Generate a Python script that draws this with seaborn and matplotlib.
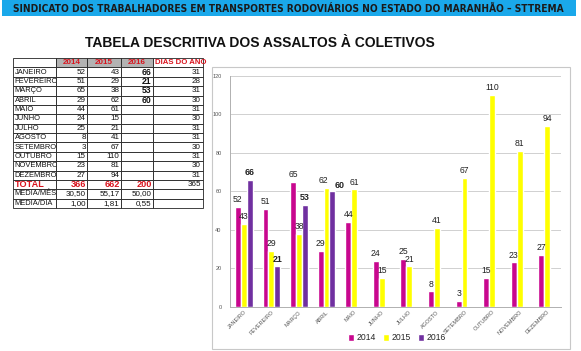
import pandas as pd
import matplotlib
matplotlib.use('Agg')
import matplotlib.pyplot as plt
from matplotlib import font_manager
from matplotlib.patches import Rectangle
import seaborn as sns

# data
meses = ['JANEIRO', 'FEVEREIRO', 'MARÇO', 'ABRIL', 'MAIO', 'JUNHO', 'JULHO',
         'AGOSTO', 'SETEMBRO', 'OUTUBRO', 'NOVEMBRO', 'DEZEMBRO']
v2014 = [52, 51, 65, 29, 44, 24, 25, 8, 3, 15, 23, 27]
v2015 = [43, 29, 38, 62, 61, 15, 21, 41, 67, 110, 81, 94]
v2016 = [66, 21, 53, 60]
dias = [31, 28, 31, 30, 31, 30, 31, 31, 30, 31, 30, 31]
anos = ['2014', '2015', '2016']
cores = ['#c8078e', '#ffff00', '#7030a0']

W, H = 581, 351
sns.set_theme(style='white')
plt.rcParams['font.family'] = ['Liberation Sans', 'DejaVu Sans']

# a condensed face for the header if one is installed
hdr_kw = {'family': 'Liberation Sans'}
for f in font_manager.fontManager.ttflist:
    if f.name == 'Liberation Sans Narrow':
        hdr_kw = {'family': 'Liberation Sans Narrow'}
        break
    if f.name == 'DejaVu Sans' and f.stretch == 'condensed':
        hdr_kw = {'family': 'DejaVu Sans', 'fontstretch': 'condensed'}

fig = plt.figure(figsize=(W / 100, H / 100), dpi=100)
fig.patch.set_facecolor('white')


def box(x0, y0, x1, y1):
    # pixel box -> figure fraction rect
    return [x0 / W, 1 - y1 / H, (x1 - x0) / W, (y1 - y0) / H]


# header band
fig.patches.append(Rectangle((2 / W, 1 - 16 / H), 574 / W, 16 / H, transform=fig.transFigure,
                             facecolor='#1aa8ea', edgecolor='none'))
hdr = fig.text(288 / W, 1 - 8.5 / H,
               'SINDICATO DOS TRABALHADORES EM TRANSPORTES RODOVIÁRIOS NO ESTADO DO MARANHÃO – STTREMA',
               ha='center', va='center', fontsize=9, fontweight='bold', color='#1a1a1a', **hdr_kw)
rend = fig.canvas.get_renderer()
w = hdr.get_window_extent(rend).width
if w > 548:
    hdr.set_fontsize(9 * 548 / w)

fig.text(260 / W, 1 - 43 / H, 'TABELA DESCRITIVA DOS ASSALTOS À COLETIVOS',
         ha='center', va='center', fontsize=10, fontweight='bold', color='#111111')

# ---- table ----
tot = [sum(v2014), sum(v2015), sum(v2016), sum(dias)]
nmes = [len(v2014), len(v2015), len(v2016)]


def br(x):
    return f'{x:.2f}'.replace('.', ',')


rows = [['', '2014', '2015', '2016', 'DIAS DO ANO']]
for i, m in enumerate(meses):
    c16 = str(v2016[i]) if i < len(v2016) else ''
    rows.append([m, str(v2014[i]), str(v2015[i]), c16, str(dias[i])])
rows.append(['TOTAL'] + [str(t) for t in tot])
rows.append(['MEDIA/MÊS'] + [br(t / n) for t, n in zip(tot[:3], nmes)] + [''])
rows.append(['MEDIA/DIA'] + [br(t / tot[3]) for t in tot[:3]] + [''])

tax = fig.add_axes(box(13, 58, 203, 208))
tax.axis('off')
cw = [43, 31, 34, 32, 50]
tbl = tax.table(cellText=rows, colWidths=[c / sum(cw) for c in cw], bbox=[0, 0, 1, 1])
tbl.auto_set_font_size(False)
for (r, c), cell in tbl.get_celld().items():
    cell.set_linewidth(0.6)
    cell.set_edgecolor('#222222')
    cell.PAD = 0.04
    t = cell.get_text()
    t.set_fontsize(5.4 if c == 0 else 5.8)
    t.set_color('#111111')
    t.set_ha('left' if c == 0 else 'right')
    if r == 0:
        t.set_color('#d9141e')
        t.set_fontweight('bold')
        t.set_ha('center')
        if c in (1, 2, 3):
            cell.set_facecolor('#b3b3b3')
        if c == 4:
            t.set_ha('left')
            t.set_fontsize(5.6)
    elif r == 13:
        if c < 4:
            t.set_color('#d9141e')
            t.set_fontweight('bold')
            t.set_fontsize(6.6)
    elif c == 3 and r <= 12:
        t.set_fontweight('bold')
        t.set_fontsize(6.2)

# ---- chart ----
fig.patches.append(Rectangle((212 / W, 1 - 349 / H), 358 / W, 282 / H, transform=fig.transFigure,
                             facecolor='none', edgecolor='#c8c8c8', linewidth=0.8))

longo = []
for ano, vals in zip(anos, [v2014, v2015, v2016]):
    for m, v in zip(meses, vals):
        longo.append({'mes': m, 'ano': ano, 'valor': v})
df = pd.DataFrame(longo)

ax = fig.add_axes(box(230, 76, 561, 306.7))
sns.barplot(data=df, x='mes', y='valor', hue='ano', order=meses, hue_order=anos,
            palette=cores, width=0.64, saturation=1, errorbar=None, ax=ax)
ax.set_ylim(0, 120)
ax.set_xlim(-0.5, 11.5)
ax.set_yticks(range(0, 121, 20))
ax.yaxis.grid(True, color='#d0d0d0', linewidth=0.7)
ax.set_axisbelow(True)
ax.set_xlabel('')
ax.set_ylabel('')
for s in ['top', 'right']:
    ax.spines[s].set_visible(False)
for s in ['left', 'bottom']:
    ax.spines[s].set_color('#b0b0b0')
    ax.spines[s].set_linewidth(0.7)
ax.tick_params(axis='y', labelsize=4, colors='#555555', length=2, width=0.5, pad=4)
ax.tick_params(axis='x', labelsize=4, colors='#555555', length=0, pad=2)
plt.setp(ax.get_xticklabels(), rotation=45, ha='right', rotation_mode='anchor')
for ct, ano in zip(ax.containers, anos):
    labs = ax.bar_label(ct, fmt='%d', fontsize=6.4 if ano == '2016' else 6.2, padding=2,
                        fontweight='bold' if ano == '2016' else 'normal', color='#222222')
    if ano == '2016':
        # April label sits a little to the right of its bar, next to the 62
        labs[3].xyann = (5, 1)
    if ano == '2015':
        labs[3].xyann = (-2, 2)

ax.legend(loc='center', bbox_to_anchor=(397 / W, 1 - 338 / H), bbox_transform=fig.transFigure,
          ncol=3, frameon=False, fontsize=6.2, handlelength=0.7, handleheight=0.7,
          handletextpad=0.3, columnspacing=0.8)

fig.savefig('out.png', dpi=100)
